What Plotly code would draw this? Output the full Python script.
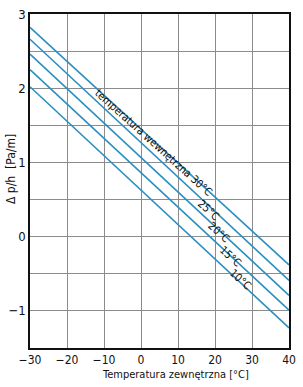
import plotly.graph_objects as go

x_ends = [-30, 40]
series_names = ["30°C", "25°C", "20°C", "15°C", "10°C"]
y_start = [2.82, 2.66, 2.46, 2.25, 2.02]
y_end = [-0.38, -0.59, -0.79, -0.99, -1.23]
label_x = [3.3, 18.3, 21.0, 24.1, 26.8]
label_y = [1.27, 0.35, 0.05, -0.27, -0.58]
label_text = ["temperatura wewnętrzna 30°C", "25°C", "20°C", "15°C", "10°C"]

FONT = "DejaVu Sans Condensed, Liberation Sans Narrow, Arial Narrow, Liberation Sans"
LINE_COLOR = "#2b8fc0"

fig = go.Figure()
for name, a, b in zip(series_names, y_start, y_end):
    fig.add_trace(go.Scatter(x=x_ends, y=[a, b], mode="lines", name=name,
                             line=dict(color=LINE_COLOR, width=1.6),
                             showlegend=False, hoverinfo="skip"))

for lx, ly, t in zip(label_x, label_y, label_text):
    fig.add_annotation(x=lx, y=ly, text=t, showarrow=False, textangle=42,
                       font=dict(family=FONT, size=11, color="#111"))

fig.add_annotation(xref="paper", yref="paper", x=0.563, y=-0.08, text="Temperatura zewnętrzna [°C]",
                   showarrow=False, xanchor="center", yanchor="middle",
                   font=dict(family=FONT, size=11, color="#111"))
fig.add_annotation(xref="paper", yref="paper", x=-0.076, y=0.537, text="Δ p/h  [Pa/m]",
                   showarrow=False, textangle=-90, xanchor="center", yanchor="middle",
                   font=dict(family=FONT, size=12, color="#111"))

fig.update_xaxes(range=[-30, 40], tickvals=[-30, -20, -10, 0, 10, 20, 30, 40],
                 ticktext=["−30", "−20", "−10", "0", "10", "20", "30", "40"],
                 showgrid=True, gridcolor="#8c8c8c", gridwidth=1, zeroline=False,
                 showline=True, linecolor="#111", linewidth=1.5, mirror=True,
                 ticks="", ticklabelstandoff=0,
                 tickfont=dict(family=FONT, size=12, color="#111"))
fig.update_yaxes(range=[-1.5, 3], tickvals=[-1.5, -1, -0.5, 0, 0.5, 1, 1.5, 2, 2.5, 3],
                 ticktext=["", "−1", "", "0", "", "1", "", "2", "", "3"],
                 showgrid=True, gridcolor="#8c8c8c", gridwidth=1, zeroline=False,
                 showline=True, linecolor="#111", linewidth=1.5, mirror=True,
                 ticks="", tickfont=dict(family=FONT, size=13, color="#111"))

fig.update_layout(width=303, height=387, margin=dict(l=30, r=7, t=7, b=39),
                  plot_bgcolor="white", paper_bgcolor="white")

fig.write_html("out.html")
